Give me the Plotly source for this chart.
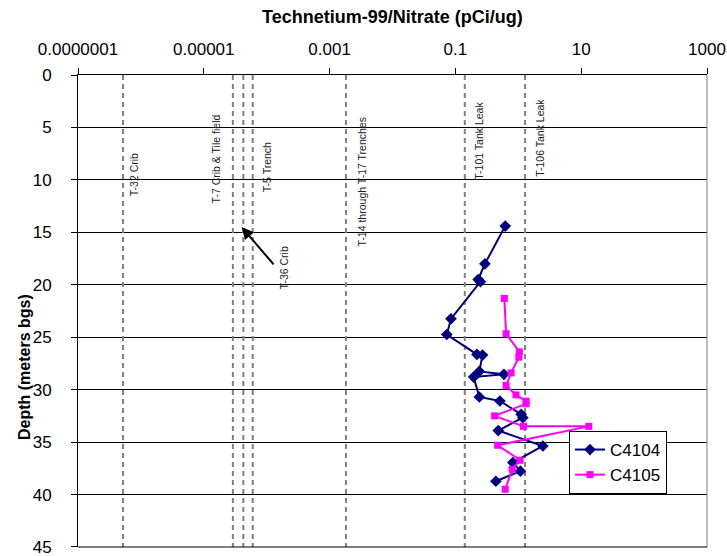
import math
import plotly.graph_objects as go

# ---- data ----
c4104_depth = [14.4, 18.0, 19.5, 19.7, 23.25, 24.74, 26.64, 26.7, 28.26, 28.54, 28.8,
               30.7, 31.08, 32.35, 32.67, 33.9, 35.37, 36.95, 37.77, 38.73]
c4104_ratio = [0.62, 0.295, 0.23, 0.25, 0.085, 0.073, 0.22, 0.27, 0.24, 0.59, 0.195,
               0.24, 0.51, 1.11, 1.18, 0.48, 2.46, 0.82, 1.08, 0.44]

c4105_depth = [21.3, 24.67, 26.4, 26.9, 28.4, 29.6, 30.5, 31.1, 31.35, 32.5, 33.5, 33.5,
               35.3, 36.73, 37.6, 39.5]
c4105_ratio = [0.60, 0.64, 1.04, 1.02, 0.77, 0.64, 0.92, 1.33, 1.33, 0.42, 1.21, 13.2,
               0.47, 1.07, 0.80, 0.62]

source_values = [5.2e-7, 2.9e-5, 4.25e-5, 6.0e-5, 1.82e-3, 0.141, 1.28]
source_labels = ["T-32 Crib", "T-7 Crib & Tile field", None, "T-5 Trench",
                 "T-14 through T-17 Trenches", "T-101 Tank Leak", "T-106 Tank Leak"]
label_bottom_depth = [11.7, 12.3, None, 11.3, 16.4, 10.1, 9.8]

arrow_label = "T-36 Crib"
arrow_head = (4.0e-5, 14.5)     # (ratio, depth)
arrow_tail = (1.35e-4, 18.2)
arrow_label_depth = 20.5

x_tickvals = [1e-7, 1e-5, 1e-3, 1e-1, 10, 1000]
x_ticktext = ["0.0000001", "0.00001", "0.001", "0.1", "10", "1000"]
y_tickvals = [0, 5, 10, 15, 20, 25, 30, 35, 40, 45]

x_title = "Technetium-99/Nitrate (pCi/ug)"
y_title = "Depth (meters bgs)"

FONT = "Liberation Sans, Arial, sans-serif"

fig = go.Figure()

# dashed reference lines
for v in source_values:
    fig.add_trace(go.Scatter(x=[v, v], y=[0, 45], mode="lines",
                             line=dict(color="#808080", width=2, dash="5px,4px"),
                             showlegend=False, hoverinfo="skip"))

fig.add_trace(go.Scatter(x=c4104_ratio, y=c4104_depth, mode="lines+markers", name="C4104",
                         line=dict(color="#000080", width=2),
                         marker=dict(symbol="diamond", size=9, color="#000080")))
fig.add_trace(go.Scatter(x=c4105_ratio, y=c4105_depth, mode="lines+markers", name="C4105",
                         line=dict(color="#FF00FF", width=2),
                         marker=dict(symbol="square", size=7, color="#FF00FF")))

annotations = []
label_shift = [4, -10, 0, 7, 9, 7, 8]
for v, txt, d, sh in zip(source_values, source_labels, label_bottom_depth, label_shift):
    if txt is None:
        continue
    annotations.append(dict(x=math.log10(v), y=d, xref="x", yref="y", text=txt,
                            textangle=-90, showarrow=False,
                            xanchor="right" if sh < 0 else "left", yanchor="bottom",
                            xshift=sh, font=dict(family=FONT, size=10.5, color="#222222"),
                            borderpad=0))

annotations.append(dict(x=math.log10(arrow_head[0]), y=arrow_head[1], xref="x", yref="y",
                        ax=math.log10(arrow_tail[0]), ay=arrow_tail[1], axref="x", ayref="y",
                        text="", showarrow=True, arrowhead=2, arrowsize=1.2, arrowwidth=2,
                        arrowcolor="black"))
annotations.append(dict(x=math.log10(arrow_tail[0]), y=arrow_label_depth, xref="x", yref="y",
                        text=arrow_label, textangle=-90, showarrow=False,
                        xanchor="left", yanchor="bottom", xshift=2,
                        font=dict(family=FONT, size=10.5, color="#222222"), borderpad=0))

annotations.append(dict(x=0.5, y=1, xref="paper", yref="paper", yshift=58,
                        text="<b>" + x_title + "</b>", showarrow=False,
                        xanchor="center", yanchor="middle",
                        font=dict(family=FONT, size=18, color="black")))
annotations.append(dict(x=(24 - 78) / (707 - 78), y=1 - (367 - 75) / (547 - 75),
                        xref="paper", yref="paper",
                        text="<b>" + y_title + "</b>", showarrow=False, textangle=-90,
                        xanchor="center", yanchor="middle",
                        font=dict(family=FONT, size=16, color="black")))

fig.update_layout(
    width=727, height=556,
    margin=dict(l=78, r=20, t=75, b=9, autoexpand=False),
    paper_bgcolor="white", plot_bgcolor="white",
    font=dict(family=FONT, size=17, color="black"),
    showlegend=True,
    legend=dict(x=(569 - 78) / 629, y=1 - (431 - 75) / 472, xanchor="left", yanchor="top",
                bgcolor="white", bordercolor="black", borderwidth=1,
                font=dict(family=FONT, size=17, color="black"),
                tracegroupgap=0, itemwidth=30),
    annotations=annotations,
    shapes=[dict(type="line", xref="paper", yref="paper", x0=1, x1=1, y0=0, y1=1,
                 line=dict(color="#808080", width=1)),
            dict(type="line", xref="paper", yref="paper", x0=0, x1=1, y0=0, y1=0,
                 line=dict(color="black", width=1))],
)

fig.update_xaxes(type="log", range=[-7, 3], side="top", tickvals=x_tickvals,
                 ticktext=x_ticktext, ticks="outside", ticklen=6, tickcolor="black",
                 showline=True, linecolor="black", linewidth=1, showgrid=False,
                 zeroline=False, tickfont=dict(size=17), ticklabelstandoff=6,
                 ticklabeloverflow="allow", automargin=False)
fig.update_yaxes(range=[45.001, 0], tickvals=y_tickvals, ticks="outside", ticklen=6,
                 tickcolor="black", showline=True, linecolor="black", linewidth=1,
                 showgrid=True, gridcolor="black", gridwidth=1, zeroline=False,
                 tickfont=dict(size=17), ticklabelstandoff=16,
                 ticklabeloverflow="allow", automargin=False)

fig.write_html("out.html")
